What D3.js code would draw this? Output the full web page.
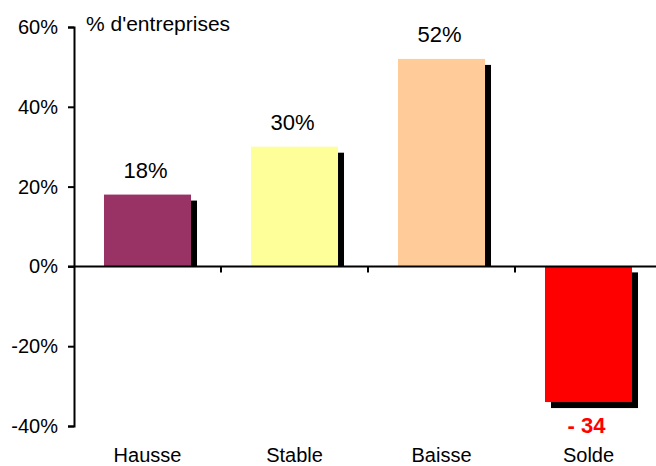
<!DOCTYPE html>
<html>
<head>
<meta charset="utf-8">
<script src="https://cdnjs.cloudflare.com/ajax/libs/d3/7.8.5/d3.min.js"></script>
<style>
  body { margin: 0; background: #fff; }
  text { font-family: 'Liberation Sans', Arial, sans-serif; }
</style>
</head>
<body>
<div id="chart"></div>
<script>
(function(){

  var categories = ['Hausse', 'Stable', 'Baisse', 'Solde'],
      values = [18, 30, 52, -34],
      valueLabels = ['18%', '30%', '52%', '- 34'],
      colors = ['#993366', '#FFFF99', '#FFCC99', '#FF0000'],
      yTicks = [-40, -20, 0, 20, 40, 60];

  var width = 656,
      height = 466;

  var svg = d3.select('#chart').append('svg')
    .attr('width', width)
    .attr('height', height);

  var x = d3.scaleBand()
    .domain(categories)
    .range([74, 662])
    .paddingInner(0.408)
    .paddingOuter(0.204);

  var y = d3.scaleLinear()
    .domain([-40, 60])
    .range([426, 27]);

  var shadow = 6,
      y0 = y(0);

  // shadows first, bars on top
  svg.append('g')
    .selectAll('.shadow')
    .data(values)
    .enter().append('rect')
    .attr('class', 'shadow')
    .attr('x', function(d, i){ return x(categories[i]) + shadow })
    .attr('y', function(d){ return d >= 0 ? y(d) + shadow : y0 + shadow })
    .attr('width', x.bandwidth())
    .attr('height', function(d){
      return d >= 0 ? y0 - y(d) - shadow : y(d) - y0;
    })
    .attr('fill', '#000');

  svg.append('g')
    .selectAll('.bar')
    .data(values)
    .enter().append('rect')
    .attr('class', 'bar')
    .attr('x', function(d, i){ return x(categories[i]) })
    .attr('y', function(d){ return Math.min(y(d), y0) })
    .attr('width', x.bandwidth())
    .attr('height', function(d){ return Math.abs(y(d) - y0) })
    .attr('fill', function(d, i){ return colors[i] });

  // y axis
  var yAxis = svg.append('g')
    .attr('transform', 'translate(74,0)')
    .call(d3.axisLeft(y)
      .tickValues(yTicks)
      .tickSize(6)
      .tickPadding(10)
      .tickFormat(function(d){ return d + '%' }));

  yAxis.select('.domain').attr('stroke-width', 2);
  yAxis.selectAll('.tick line').attr('stroke-width', 2);
  yAxis.selectAll('.tick text')
    .attr('font-size', 20)
    .attr('font-family', "'Liberation Sans', Arial, sans-serif")
    .attr('fill', '#000');

  // x axis line, ticks sit between the categories
  svg.append('line')
    .attr('x1', 68)
    .attr('x2', width)
    .attr('y1', y0)
    .attr('y2', y0)
    .attr('stroke', '#000')
    .attr('stroke-width', 2);

  var gap = x.step() * x.paddingInner() / 2;

  svg.append('g')
    .selectAll('.xtick')
    .data(categories.slice(1))
    .enter().append('line')
    .attr('class', 'xtick')
    .attr('x1', function(d){ return x(d) - gap })
    .attr('x2', function(d){ return x(d) - gap })
    .attr('y1', y0)
    .attr('y2', y0 + 6)
    .attr('stroke', '#000')
    .attr('stroke-width', 2);

  // category labels
  svg.append('g')
    .selectAll('.cat')
    .data(categories)
    .enter().append('text')
    .attr('class', 'cat')
    .attr('x', function(d){ return x(d) + x.bandwidth() / 2 })
    .attr('y', 462)
    .attr('text-anchor', 'middle')
    .attr('font-size', 20)
    .attr('fill', '#000')
    .text(function(d){ return d });

  // value labels
  svg.append('g')
    .selectAll('.val')
    .data(values)
    .enter().append('text')
    .attr('class', 'val')
    .attr('x', function(d, i){ return x(categories[i]) + x.bandwidth() / 2 - 2 })
    .attr('y', function(d){ return d >= 0 ? y(d) - 17 : y(d) + 31 })
    .attr('text-anchor', 'middle')
    .attr('font-size', 22)
    .attr('font-weight', function(d){ return d >= 0 ? 'normal' : 'bold' })
    .attr('fill', function(d){ return d >= 0 ? '#000' : '#FF0000' })
    .text(function(d, i){ return valueLabels[i] });

  svg.append('text')
    .attr('x', 86)
    .attr('y', 31)
    .attr('font-size', 21)
    .attr('fill', '#000')
    .text("% d'entreprises");

})();
</script>
</body>
</html>
